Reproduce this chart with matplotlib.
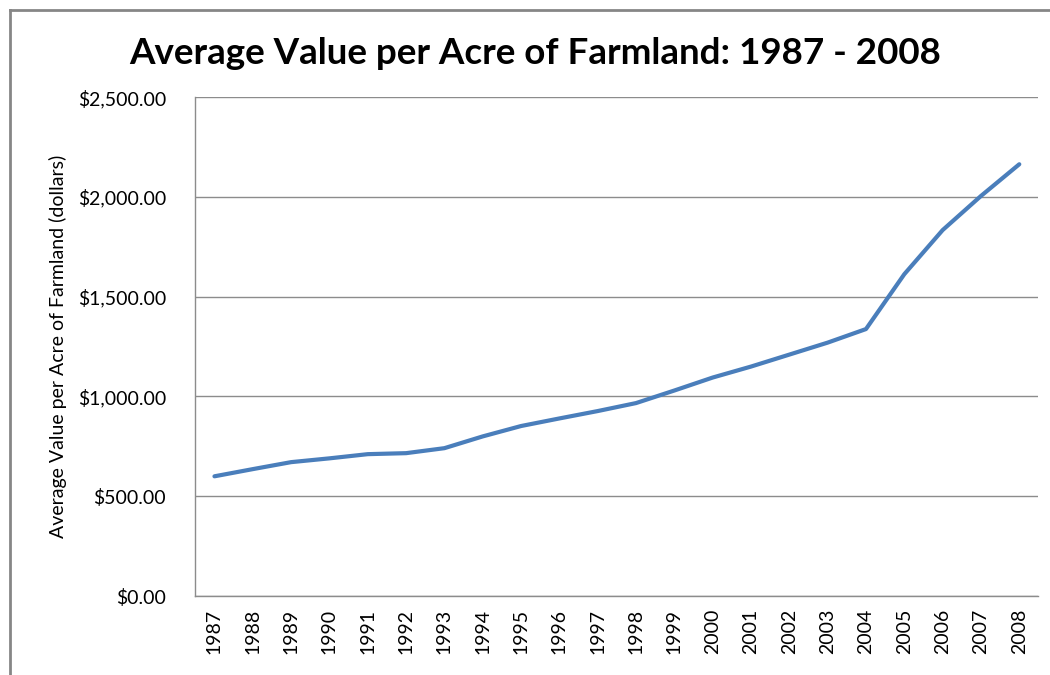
import matplotlib.pyplot as plt
from matplotlib.lines import Line2D
from matplotlib.ticker import FuncFormatter

years = list(range(1987, 2009))
values = [600, 636, 671, 690, 711, 716, 741, 800, 852, 890, 927, 967,
          1030, 1095, 1150, 1210, 1270, 1338, 1613, 1834, 2005, 2164]
y_ticks = [0, 500, 1000, 1500, 2000, 2500]

plt.rcParams['font.family'] = ['Lato', 'DejaVu Sans']

fig = plt.figure(figsize=(10.5, 6.75), dpi=100)
ax = fig.add_axes([0.186, 0.117, 0.803, 0.739])

# x as category positions
xpos = list(range(len(years)))
ax.plot(xpos, values, color='#4a7ebb', linewidth=3, solid_capstyle='round')

ax.set_xlim(-0.5, len(years) - 0.5)
ax.set_ylim(0, 2500)
ax.set_yticks(y_ticks)
ax.yaxis.set_major_formatter(FuncFormatter(lambda v, p: f"${v:,.2f}"))
ax.set_xticks(xpos)
ax.set_xticklabels([str(y) for y in years], rotation=90)

ax.grid(axis='y', color='#8c8c8c', linewidth=1)
ax.set_axisbelow(True)
for s in ['top', 'right']:
    ax.spines[s].set_visible(False)
for s in ['left', 'bottom']:
    ax.spines[s].set_color('#8c8c8c')
    ax.spines[s].set_linewidth(1)
ax.tick_params(axis='y', length=0, pad=21, labelsize=14, colors='#000000')
ax.tick_params(axis='x', length=0, pad=9, labelsize=14)

ax.set_ylabel('Average Value per Acre of Farmland (dollars)', fontsize=14, labelpad=8)

fig.suptitle('Average Value per Acre of Farmland: 1987 - 2008', fontsize=26.5,
             fontweight='bold', x=0.51, y=0.945)

# outer chart border (top and left visible in the crop)
fig.add_artist(Line2D([9.5 / 1050, 1.0], [1 - 10 / 675, 1 - 10 / 675],
                      transform=fig.transFigure, color='#868686', linewidth=2))
fig.add_artist(Line2D([9.5 / 1050, 9.5 / 1050], [0, 1 - 10 / 675],
                      transform=fig.transFigure, color='#868686', linewidth=2))

plt.savefig('out.png', dpi=100)
plt.close()
